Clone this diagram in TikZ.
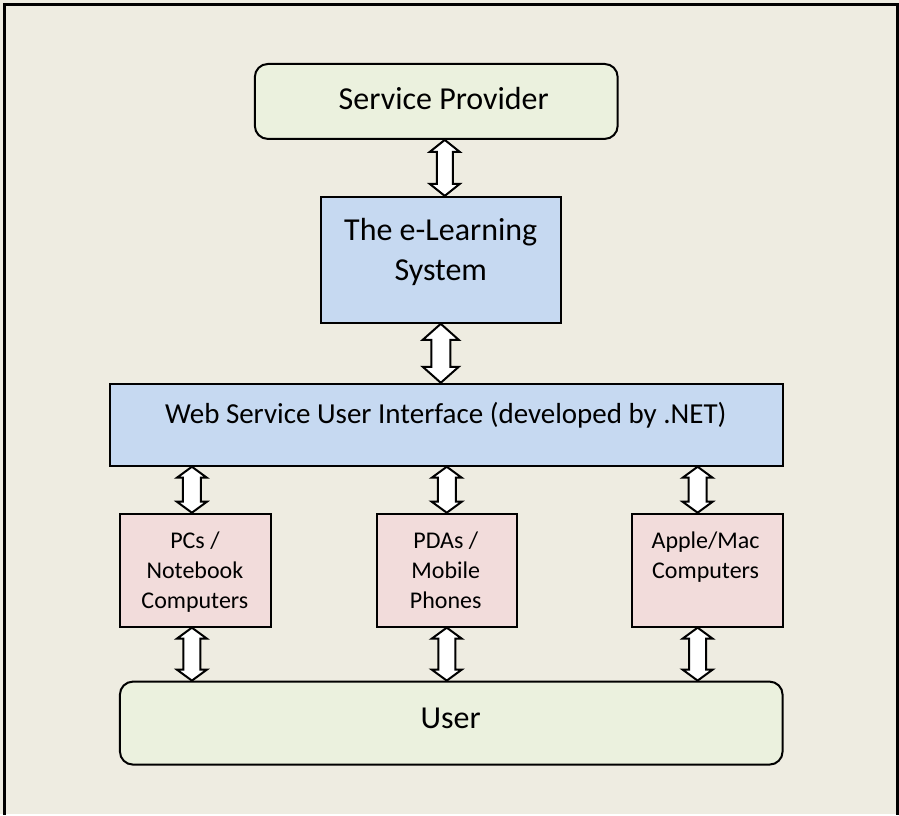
\documentclass[tikz,border=0pt]{standalone}
\usepackage{fontspec}
\setmainfont{Carlito}
\usetikzlibrary{calc}

\definecolor{pagebg}{HTML}{EEECE1}
\definecolor{greenfill}{HTML}{EBF1DE}
\definecolor{bluefill}{HTML}{C6D9F1}
\definecolor{pinkfill}{HTML}{F2DCDB}

% outlined double-headed block arrow between two stacked nodes
% #1 upper node, #2 lower node, #3 column coordinate,
% #4 head half-width, #5 shaft half-width, #6 head length
\newcommand\blockarrow[6]{%
  \draw[arrowbody] let \p1=(#1.south -| #3), \p2=(#2.north -| #3) in
    (\x1,\y1) -- (\x1+#4,\y1-#6) -- (\x1+#5,\y1-#6) -- (\x1+#5,\y2+#6)
    -- (\x1+#4,\y2+#6) -- (\x1,\y2) -- (\x1-#4,\y2+#6) -- (\x1-#5,\y2+#6)
    -- (\x1-#5,\y1-#6) -- (\x1-#4,\y1-#6) -- cycle;}

\begin{document}
\begin{tikzpicture}[x=1pt, y=-1pt,
  box/.style={draw=black, line width=2pt, anchor=north west, inner sep=0pt},
  roundbox/.style={box, rounded corners=13pt, fill=greenfill},
  bluebox/.style={box, fill=bluefill},
  pinkbox/.style={box, fill=pinkfill},
  arrowbody/.style={draw=black, fill=white, line width=2pt, line join=miter},
  bigtext/.style={font=\fontsize{32}{39.5}\selectfont, align=center},
  midtext/.style={font=\fontsize{29}{35}\selectfont, align=center},
  smalltext/.style={font=\fontsize{24}{30}\selectfont, align=center, anchor=north}]

% page and frame
\fill[pagebg] (0,0) rectangle (899,814);
\draw[line width=3pt, line cap=rect] (5,814) -- (5,5) -- (898,5) -- (898,814);
\useasboundingbox (0,0) rectangle (899,814);

% boxes
\node[roundbox, minimum width=363pt, minimum height=75pt] (provider) at (254,63) {};
\node[bluebox, minimum width=240pt, minimum height=126pt] (elearn) at (320,196) {};
\node[bluebox, minimum width=673pt, minimum height=82pt] (webui) at (109,383) {};
\node[pinkbox, minimum width=151pt, minimum height=113pt] (pcs) at (119,513) {};
\node[pinkbox, minimum width=140pt, minimum height=113pt] (pdas) at (376,513) {};
\node[pinkbox, minimum width=151pt, minimum height=113pt] (mac) at (631,513) {};
\node[roundbox, minimum width=663pt, minimum height=83pt] (user) at (119,681) {};

% labels
\node[bigtext] (providerlabel) at (444,99) {Service Provider};
\node[bigtext] (elearnlabel) at (441,252) {The e-Learning\\System};
\node[midtext] (webuilabel) at (446,415) {Web Service User Interface (developed by .NET)};
\node[smalltext] (pcslabel) at (195,529) {PCs /\\Notebook\\Computers};
\node[smalltext] (pdaslabel) at (446,529) {PDAs /\\Mobile\\Phones};
\node[smalltext] (maclabel) at (706,529) {Apple/Mac\\Computers};
\node[bigtext] (userlabel) at (451,719) {User};

% arrow columns
\coordinate (colA) at (445,0);
\coordinate (colB) at (441,0);
\coordinate (colL) at (192,0);
\coordinate (colM) at (447,0);
\coordinate (colR) at (698,0);

% connectors
\blockarrow{provider}{elearn}{colA}{15}{8}{12}
\blockarrow{elearn}{webui}{colB}{18}{9.5}{16}
\blockarrow{webui}{pcs}{colL}{15}{9}{11}
\blockarrow{webui}{pdas}{colM}{15}{9}{11}
\blockarrow{webui}{mac}{colR}{15}{9}{11}
\blockarrow{pcs}{user}{colL}{15}{8.5}{11}
\blockarrow{pdas}{user}{colM}{15}{8.5}{11}
\blockarrow{mac}{user}{colR}{15}{8.5}{11}
\end{tikzpicture}
\end{document}
